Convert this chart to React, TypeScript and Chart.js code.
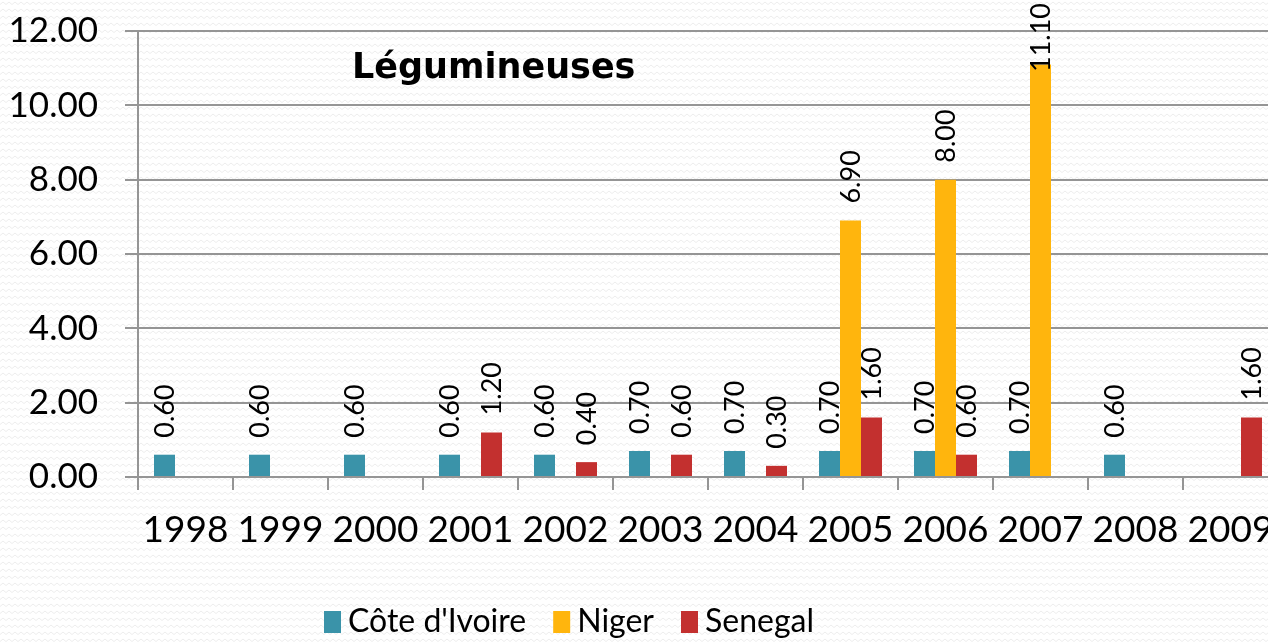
import React, { useEffect, useRef } from "react";
import { Chart, registerables } from "chart.js";

Chart.register(...registerables);

const years = ["1998", "1999", "2000", "2001", "2002", "2003", "2004", "2005", "2006", "2007", "2008", "2009"];
const coteDIvoire = [0.6, 0.6, 0.6, 0.6, 0.6, 0.7, 0.7, 0.7, 0.7, 0.7, 0.6, null];
const niger = [null, null, null, null, null, null, null, 6.9, 8.0, 11.1, null, null];
const senegal = [null, null, null, 1.2, 0.4, 0.6, 0.3, 1.6, 0.6, null, null, 1.6];
const seriesNames = ["Côte d'Ivoire", "Niger", "Senegal"];
const seriesColors = ["#3A93A9", "#FFB50D", "#C3302F"];
const yMin = 0;
const yMax = 12;
const yStep = 2;
const chartTitle = "Légumineuses";

const FONT = "Lato";
const AXIS_COLOR = "#959595";

function makePattern(): CanvasPattern | string {
  const tile = document.createElement("canvas");
  tile.width = 6;
  tile.height = 7;
  const c = tile.getContext("2d");
  if (!c) return "#ffffff";
  c.fillStyle = "#ffffff";
  c.fillRect(0, 0, 6, 7);
  c.strokeStyle = "#ededed";
  c.lineWidth = 1;
  c.beginPath();
  c.moveTo(0, 4.5);
  c.lineTo(3, 2);
  c.lineTo(6, 4.5);
  c.stroke();
  const ctx = document.createElement("canvas").getContext("2d");
  return ctx ? ctx.createPattern(tile, "repeat") || "#ffffff" : "#ffffff";
}

export default function App() {
  const ref = useRef<HTMLCanvasElement>(null);

  useEffect(() => {
    document.body.style.margin = "0";
    document.body.style.overflow = "hidden";
    const canvas = ref.current;
    if (!canvas) return;
    const pattern = makePattern();

    const bgPlugin = {
      id: "bgPattern",
      beforeDraw(chart: any) {
        const { ctx, width, height } = chart;
        ctx.save();
        ctx.fillStyle = pattern;
        ctx.fillRect(0, 0, width, height);
        ctx.restore();
      },
    };

    const valueLabels = {
      id: "valueLabels",
      afterDatasetsDraw(chart: any) {
        const ctx = chart.ctx;
        ctx.save();
        ctx.font = `27px ${FONT}`;
        ctx.fillStyle = "#000000";
        ctx.textAlign = "left";
        ctx.textBaseline = "middle";
        chart.data.datasets.forEach((ds: any, di: number) => {
          const meta = chart.getDatasetMeta(di);
          meta.data.forEach((bar: any, i: number) => {
            const v = ds.data[i];
            if (v === null || v === undefined) return;
            const text = Number(v).toFixed(2);
            const w = ctx.measureText(text).width;
            let start = bar.y - 17;
            if (start - w < 3) start = 3 + w;
            ctx.save();
            ctx.translate(bar.x, start);
            ctx.rotate(-Math.PI / 2);
            ctx.fillText(text, 0, 1);
            ctx.restore();
          });
        });
        ctx.restore();
      },
    };

    const titlePlugin = {
      id: "innerTitle",
      afterDraw(chart: any) {
        const ctx = chart.ctx;
        const area = chart.chartArea;
        ctx.save();
        ctx.font = `bold 35px "DejaVu Sans"`;
        ctx.fillStyle = "#000000";
        ctx.textAlign = "left";
        ctx.textBaseline = "alphabetic";
        ctx.fillText(chartTitle, area.left + 214, area.top + 47);
        ctx.restore();
      },
    };

    const legendPlugin = {
      id: "customLegend",
      afterDraw(chart: any) {
        const ctx = chart.ctx;
        ctx.save();
        ctx.font = `32px ${FONT}`;
        ctx.textAlign = "left";
        ctx.textBaseline = "middle";
        let x = 324;
        const cy = 622;
        chart.data.datasets.forEach((ds: any) => {
          ctx.fillStyle = ds.backgroundColor;
          ctx.fillRect(x, cy - 11, 17, 22);
          ctx.fillStyle = "#000000";
          ctx.fillText(ds.label, x + 24, cy);
          x += 24 + ctx.measureText(ds.label).width + 27;
        });
        ctx.restore();
      },
    };

    const chart = new Chart(canvas, {
      type: "bar",
      data: {
        labels: years,
        datasets: [
          { label: seriesNames[0], data: coteDIvoire, backgroundColor: seriesColors[0] },
          { label: seriesNames[1], data: niger, backgroundColor: seriesColors[1] },
          { label: seriesNames[2], data: senegal, backgroundColor: seriesColors[2] },
        ],
      },
      options: {
        responsive: false,
        animation: false,
        devicePixelRatio: 1,
        layout: { padding: { top: 31, right: 12, left: 0, bottom: 67 } },
        datasets: {
          bar: { categoryPercentage: 0.663, barPercentage: 1.0 },
        },
        plugins: {
          legend: { display: false },
          title: { display: false },
          tooltip: { enabled: false },
        },
        scales: {
          x: {
            grid: {
              display: true,
              drawOnChartArea: false,
              drawTicks: true,
              tickLength: 13,
              color: AXIS_COLOR,
              lineWidth: 2,
            },
            border: { display: true, color: AXIS_COLOR, width: 2 },
            ticks: {
              color: "#000000",
              font: { family: FONT, size: 37 },
              padding: 18,
              maxRotation: 0,
              autoSkip: false,
            },
            afterFit(scale: any) {
              scale.height = 100;
              scale.paddingLeft = 0;
              scale.paddingRight = 0;
            },
          },
          y: {
            min: yMin,
            max: yMax,
            grid: {
              color: AXIS_COLOR,
              lineWidth: 2,
              drawTicks: true,
              tickLength: 13,
            },
            border: { display: true, color: AXIS_COLOR, width: 2 },
            ticks: {
              stepSize: yStep,
              color: "#000000",
              font: { family: FONT, size: 35 },
              padding: 27,
              callback: (v: any) => Number(v).toFixed(2),
            },
            afterFit(scale: any) {
              scale.width = 138;
              scale.paddingTop = 0;
              scale.paddingBottom = 0;
            },
          },
        },
      },
      plugins: [bgPlugin, valueLabels, titlePlugin, legendPlugin],
    });

    return () => chart.destroy();
  }, []);

  return (
    <div style={{ width: 1268, height: 644, overflow: "hidden", position: "relative" }}>
      <canvas ref={ref} width={1290} height={644} style={{ display: "block" }} />
    </div>
  );
}
